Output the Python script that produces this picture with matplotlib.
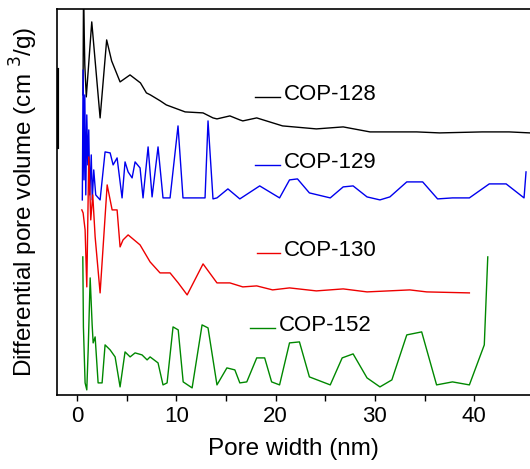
import numpy as np
import matplotlib.pyplot as plt

plt.rcParams['font.family'] = ['Liberation Sans', 'DejaVu Sans']

# pore width (nm) and differential pore volume (a.u., offset stacks)
x_128 = [0.62, 0.67, 0.8, 0.95, 1.5, 2.34, 3.0, 3.5, 4.35, 5.35, 6.4, 7.0, 7.4, 8.4, 9.0,
         10.9, 12.7, 13.7, 14.1, 15.4, 16.4, 16.7, 18.1, 20.7, 24.1, 26.8, 29.5, 34.2,
         36.5, 40.8, 43.5, 45.6]
y_128 = [300, 400, 330, 298, 373, 277, 355, 334, 313, 320, 312, 302, 300, 294, 290,
         283, 282, 277, 276, 279, 275, 274, 277, 269, 266, 268, 263, 263,
         262, 263, 263, 262]

x_129 = [0.55, 0.63, 0.72, 0.8, 0.9, 1.0, 1.1, 1.2, 1.3, 1.45, 1.55, 1.7, 1.9, 2.34,
         2.84, 3.35, 3.65, 4.05, 4.55, 4.85, 5.16, 5.56, 5.86, 6.36, 6.66, 7.17, 7.57,
         8.17, 8.67, 9.38, 10.18, 10.68, 12.9, 13.2, 13.7, 14.1, 15.2, 16.4, 18.4, 20.4,
         21.4, 22.2, 23.4, 25.5, 26.8, 27.8, 29.2, 30.5, 31.5, 33.2, 34.8, 36.3, 37.8,
         39.5, 41.5, 43.2, 45.0, 45.2]
y_129 = [195, 325, 215, 300, 200, 280, 230, 265, 200, 240, 195, 225, 200, 195,
         243, 242, 230, 237, 197, 233, 223, 217, 233, 227, 197, 248, 198,
         248, 197, 197, 269, 197, 197, 274, 196, 197, 206, 196, 209, 197,
         215, 216, 202, 197, 208, 209, 198, 195, 198, 213, 213, 196, 197,
         197, 211, 211, 197, 223]

x_130 = [0.5, 0.63, 0.83, 1.0, 1.2, 1.4, 1.6, 1.84, 2.34, 3.05, 3.55, 4.05, 4.35, 4.65,
         5.16, 6.36, 7.37, 8.37, 9.38, 10.2, 11.1, 12.7, 14.1, 15.4, 16.7, 18.1, 19.7,
         21.4, 24.1, 26.8, 29.2, 33.5, 35.2, 39.5]
y_130 = [185, 182, 165, 108, 238, 175, 200, 158, 102, 210, 185, 185, 148, 155,
         160, 150, 133, 122, 122, 112, 100, 131, 112, 112, 108, 109, 105,
         107, 104, 106, 103, 105, 103, 102]

x_152 = [0.6, 0.66, 0.83, 1.0, 1.14, 1.34, 1.54, 1.64, 1.84, 2.14, 2.54, 2.84, 3.35,
         3.85, 4.35, 4.85, 5.36, 5.86, 6.56, 7.07, 7.37, 8.17, 8.67, 9.08, 9.68, 10.2,
         10.7, 11.6, 12.6, 13.2, 14.1, 15.1, 15.9, 16.4, 17.1, 18.1, 18.9, 19.6, 20.4,
         21.4, 22.4, 23.4, 25.5, 26.7, 27.8, 29.2, 30.5, 31.7, 33.2, 34.7, 36.2, 37.8,
         39.5, 41.0, 41.35]
y_152 = [138, 68, 12, 5, 45, 117, 70, 52, 58, 12, 12, 50, 45,
         38, 8, 43, 38, 42, 40, 35, 38, 32, 10, 12, 68, 65,
         13, 7, 70, 67, 10, 27, 25, 12, 13, 37, 37, 13, 10,
         52, 53, 18, 10, 37, 41, 17, 8, 15, 60, 63, 10, 13,
         10, 50, 138]

series = [
    ('COP-128', x_128, y_128, 'black'),
    ('COP-129', x_129, y_129, '#0000ee'),
    ('COP-130', x_130, y_130, '#ee0000'),
    ('COP-152', x_152, y_152, '#008800'),
]

# where the name tags sit (x of line start, x of line end, y)
tags = {
    'COP-128': (17.9, 20.4, 298),
    'COP-129': (17.9, 20.4, 230),
    'COP-130': (18.1, 20.4, 142),
    'COP-152': (17.4, 19.9, 67),
}

fig = plt.figure(figsize=(5.3, 4.69), dpi=100)
ax = fig.add_axes([0.1075, 0.158, 0.8925, 0.823])

for name, xs, ys, c in series:
    ax.plot(xs, ys, color=c, lw=1.0)
    x0, x1, yy = tags[name]
    ax.plot([x0, x1], [yy, yy], color=c, lw=1.0)
    ax.text(x1 + 0.4, yy + 2, name, fontsize=16, va='center', ha='left')

ax.set_xlim(-2, 45.6)
ax.set_ylim(0, 386)
ax.set_xticks([0, 10, 20, 30, 40])
ax.set_xticks([5, 15, 25, 35], minor=True)
ax.set_yticks([])
ax.tick_params(axis='x', which='both', direction='out', length=4, width=1,
               labelsize=16, pad=4)
ax.spines['right'].set_visible(False)
for s in ['left', 'top', 'bottom']:
    ax.spines[s].set_linewidth(1.2)
ax.axvline(-2, ymin=0.642, ymax=0.842, color='black', lw=3)

ax.set_xlabel('Pore width (nm)', fontsize=17.5, labelpad=8)
ax.set_ylabel('Differential pore volume (cm $^3$/g)', fontsize=17.5, labelpad=12)

fig.savefig('out.png', dpi=100)
